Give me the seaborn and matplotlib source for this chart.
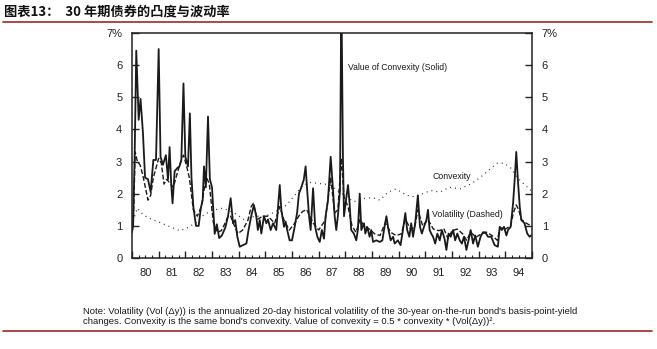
import matplotlib
matplotlib.use("Agg")
import matplotlib.pyplot as plt
from matplotlib import font_manager
from matplotlib.lines import Line2D
from matplotlib.ticker import FixedLocator, FuncFormatter, NullFormatter
import pandas as pd
import seaborn as sns

# Value of convexity (solid line), % — 30-year on-the-run bond
value_years = [
    1980.00, 1980.04, 1980.10, 1980.16, 1980.25, 1980.32, 1980.41, 1980.49, 1980.60, 1980.70,
    1980.80, 1980.90, 1981.00, 1981.07, 1981.16, 1981.27, 1981.35, 1981.41, 1981.47, 1981.52,
    1981.60, 1981.70, 1981.78, 1981.85, 1981.93, 1982.00, 1982.10, 1982.17, 1982.23, 1982.30,
    1982.40, 1982.50, 1982.58, 1982.65, 1982.70, 1982.77, 1982.85, 1982.92, 1983.00, 1983.05,
    1983.10, 1983.18, 1983.27, 1983.37, 1983.50, 1983.60, 1983.70, 1983.79, 1983.87, 1983.95,
    1984.04, 1984.16, 1984.29, 1984.37, 1984.47, 1984.57, 1984.66, 1984.72, 1984.79, 1984.85,
    1984.95, 1985.04, 1985.10, 1985.20, 1985.29, 1985.41, 1985.47, 1985.54, 1985.60, 1985.70,
    1985.76, 1985.82, 1985.91, 1986.00, 1986.10, 1986.19, 1986.26, 1986.35, 1986.44, 1986.51,
    1986.57, 1986.64, 1986.70, 1986.79, 1986.87, 1986.95, 1987.04, 1987.12, 1987.20, 1987.26,
    1987.35, 1987.45, 1987.54, 1987.60, 1987.66, 1987.72, 1987.80, 1987.85, 1987.91, 1987.95,
    1988.04, 1988.10, 1988.16, 1988.22, 1988.32, 1988.41, 1988.47, 1988.54, 1988.60, 1988.70,
    1988.75, 1988.82, 1988.91, 1988.97, 1989.04, 1989.16, 1989.29, 1989.39, 1989.47, 1989.54,
    1989.62, 1989.70, 1989.79, 1989.85, 1989.97, 1990.07, 1990.16, 1990.25, 1990.32, 1990.40,
    1990.47, 1990.54, 1990.62, 1990.72, 1990.80, 1990.87, 1990.95, 1991.04, 1991.10, 1991.16,
    1991.22, 1991.29, 1991.37, 1991.45, 1991.54, 1991.62, 1991.72, 1991.79, 1991.87, 1991.95,
    1992.04, 1992.12, 1992.20, 1992.29, 1992.37, 1992.45, 1992.54, 1992.62, 1992.70, 1992.79,
    1992.87, 1992.97, 1993.07, 1993.16, 1993.25, 1993.35, 1993.47, 1993.60, 1993.72, 1993.79,
    1993.87, 1993.95, 1994.04, 1994.10, 1994.20, 1994.29, 1994.35, 1994.41, 1994.47, 1994.54,
    1994.60, 1994.72, 1994.82, 1994.91, 1994.96,
]
value_pct = [
    0.80, 1.00, 3.20, 6.45, 4.30, 4.95, 3.90, 2.50, 2.45, 2.05,
    3.05, 3.05, 6.50, 3.15, 2.90, 3.20, 2.45, 3.45, 2.30, 1.70,
    2.70, 2.80, 2.85, 3.05, 5.43, 3.15, 2.85, 4.50, 2.50, 1.60,
    1.00, 1.00, 1.55, 1.80, 2.85, 2.20, 4.40, 2.45, 2.20, 1.50,
    0.75, 1.05, 0.62, 0.70, 0.95, 1.30, 1.86, 1.08, 1.18, 0.66,
    0.35, 0.40, 0.45, 0.87, 1.30, 1.65, 1.30, 0.87, 1.18, 0.76,
    1.30, 1.08, 1.20, 0.87, 1.08, 0.87, 1.50, 2.27, 1.50, 0.97,
    1.13, 0.87, 0.55, 0.55, 0.97, 1.40, 2.00, 2.20, 2.43, 2.85,
    2.10, 1.30, 0.87, 2.17, 0.97, 0.66, 0.50, 0.87, 0.60, 1.30,
    1.80, 3.15, 2.10, 1.30, 0.87, 1.30, 2.10, 8.50, 3.15, 1.30,
    1.90, 2.27, 1.70, 0.87, 0.76, 0.55, 0.87, 2.00, 0.87, 1.08,
    0.76, 0.97, 0.66, 0.87, 0.50, 0.55, 0.50, 0.55, 0.97, 1.30,
    0.87, 0.55, 0.66, 0.45, 0.55, 0.40, 0.87, 1.40, 0.87, 0.66,
    1.08, 0.66, 1.08, 1.95, 0.97, 0.76, 0.97, 1.18, 1.50, 0.87,
    0.76, 0.66, 0.45, 0.76, 0.55, 0.87, 0.60, 0.25, 0.76, 0.66,
    0.87, 0.55, 0.76, 0.55, 0.45, 0.66, 0.25, 0.55, 0.87, 0.45,
    0.70, 0.35, 0.66, 0.80, 0.80, 0.66, 0.66, 0.40, 0.35, 0.97,
    0.87, 0.97, 0.70, 0.87, 0.97, 1.70, 2.43, 3.30, 2.43, 1.60,
    1.18, 1.08, 0.76, 0.66, 0.70,
]

# Volatility of basis-point yield changes (dashed line), %
vol_years = [
    1980.00, 1980.05, 1980.12, 1980.20, 1980.30, 1980.40, 1980.50, 1980.60, 1980.70, 1980.80,
    1980.90, 1981.00, 1981.10, 1981.20, 1981.30, 1981.45, 1981.55, 1981.70, 1981.85, 1981.93,
    1982.05, 1982.15, 1982.30, 1982.45, 1982.60, 1982.70, 1982.80, 1982.90, 1983.05, 1983.20,
    1983.35, 1983.50, 1983.60, 1983.70, 1983.80, 1983.97, 1984.15, 1984.35, 1984.47, 1984.55,
    1984.70, 1984.90, 1985.10, 1985.35, 1985.54, 1985.70, 1985.90, 1986.10, 1986.25, 1986.40,
    1986.55, 1986.80, 1987.00, 1987.25, 1987.45, 1987.60, 1987.72, 1987.85, 1987.95, 1988.10,
    1988.25, 1988.40, 1988.55, 1988.70, 1988.90, 1989.10, 1989.30, 1989.50, 1989.70, 1989.90,
    1990.10, 1990.25, 1990.45, 1990.60, 1990.72, 1990.90, 1991.10, 1991.30, 1991.50, 1991.70,
    1991.85, 1992.00, 1992.20, 1992.40, 1992.55, 1992.70, 1992.90, 1993.10, 1993.30, 1993.50,
    1993.70, 1993.80, 1994.00, 1994.20, 1994.30, 1994.41, 1994.50, 1994.60, 1994.75, 1994.96,
]
vol_pct = [
    0.80, 1.10, 3.30, 3.00, 2.90, 2.60, 2.20, 1.80, 1.95, 2.50,
    2.80, 3.10, 2.95, 2.30, 2.45, 2.30, 2.20, 2.65, 3.05, 3.20,
    2.85, 2.50, 1.50, 1.30, 1.60, 2.10, 2.50, 2.30, 1.10, 0.80,
    0.85, 1.10, 1.30, 1.30, 1.08, 0.76, 0.87, 1.18, 1.60, 1.70,
    1.20, 1.30, 1.30, 1.08, 1.60, 1.18, 0.87, 1.08, 1.30, 1.45,
    1.50, 1.08, 0.87, 1.18, 2.50, 1.40, 1.50, 3.10, 1.90, 1.60,
    1.00, 0.80, 1.20, 1.00, 0.90, 0.75, 0.70, 1.10, 0.80, 0.70,
    0.75, 1.20, 0.90, 0.95, 1.50, 1.00, 1.20, 0.90, 0.85, 0.90,
    0.60, 0.85, 0.90, 0.75, 0.55, 0.80, 0.65, 0.75, 0.80, 0.70,
    0.55, 0.95, 0.90, 1.00, 1.40, 1.65, 1.50, 1.20, 1.10, 1.00,
]

# Convexity of the same bond (dotted line)
cvx_years = [
    1980.00, 1980.10, 1980.20, 1980.35, 1980.60, 1981.00, 1981.40, 1981.80, 1982.10, 1982.40,
    1982.70, 1983.00, 1983.40, 1983.80, 1984.20, 1984.60, 1985.00, 1985.40, 1985.80, 1986.10,
    1986.40, 1986.70, 1987.00, 1987.40, 1987.70, 1988.00, 1988.30, 1988.70, 1989.00, 1989.30,
    1989.60, 1989.90, 1990.30, 1990.60, 1990.90, 1991.20, 1991.55, 1991.90, 1992.30, 1992.70,
    1993.05, 1993.40, 1993.70, 1993.95, 1994.20, 1994.45, 1994.70, 1994.96,
]
cvx_pct = [
    1.00, 1.30, 1.55, 1.40, 1.25, 1.12, 0.98, 0.85, 0.95, 1.10,
    1.35, 1.48, 1.55, 1.42, 1.20, 1.30, 1.30, 1.45, 1.65, 1.95,
    2.25, 2.35, 2.32, 2.28, 2.10, 1.95, 1.75, 1.85, 1.88, 1.80,
    2.05, 2.15, 1.95, 1.90, 2.00, 2.10, 2.05, 2.20, 2.15, 2.30,
    2.50, 2.75, 2.95, 2.95, 2.80, 2.50, 2.30, 2.10,
]

y_tick_labels = ["0", "1", "2", "3", "4", "5", "6", "7%"]
year_labels = [str(y)[2:] for y in range(1980, 1995)]

title_text = "图表13：  30 年期债券的凸度与波动率"
note_lines = [
    "Note: Volatility (Vol (\u0394y)) is the annualized 20-day historical volatility of the "
    "30-year on-the-run bond's basis-point-yield",
    "changes. Convexity is the same bond's convexity. Value of convexity = 0.5 * convexity * "
    "(Vol(\u0394y))\u00b2.",
]

sns.set_theme(style="white")
installed = {f.name for f in font_manager.fontManager.ttflist}
narrow = "Liberation Sans Narrow" if "Liberation Sans Narrow" in installed else "Liberation Sans"
plt.rcParams["font.family"] = ["Liberation Sans", "DejaVu Sans"]

W, H = 657, 349
fig = plt.figure(figsize=(W / 100, H / 100), dpi=100)
fig.patch.set_facecolor("white")
ax = fig.add_axes([132 / W, 1 - 258 / H, 400 / W, 225 / H])

ink = "#1a1a1a"
value_df = pd.DataFrame({"year": value_years, "pct": value_pct})
vol_df = pd.DataFrame({"year": vol_years, "pct": vol_pct})
cvx_df = pd.DataFrame({"year": cvx_years, "pct": cvx_pct})

sns.lineplot(data=cvx_df, x="year", y="pct", ax=ax, color="#333333", lw=0.9,
             linestyle=(0, (0.8, 3.2)), estimator=None, sort=False)
sns.lineplot(data=vol_df, x="year", y="pct", ax=ax, color=ink, lw=1.0,
             linestyle=(0, (3.5, 1.6)), estimator=None, sort=False)
sns.lineplot(data=value_df, x="year", y="pct", ax=ax, color=ink, lw=1.3,
             estimator=None, sort=False)

ax.set_xlim(1980, 1995)
ax.set_ylim(0, 7)
ax.set_xlabel("")
ax.set_ylabel("")

for side in ["left", "right", "top", "bottom"]:
    ax.spines[side].set_visible(True)
    ax.spines[side].set_color("#222222")
    ax.spines[side].set_linewidth(1.1)

ax.set_yticks(range(8))
ax.set_yticklabels(y_tick_labels)
ax.tick_params(axis="y", which="both", direction="in", length=5, width=1.0,
               color="#222222", left=True, right=True, labelleft=True,
               labelright=True, labelsize=8, pad=7, labelcolor="#222222")

# year boundaries carry tall ticks, quarters short ones; mid-year quarter holds the label
ax.xaxis.set_major_locator(FixedLocator(list(range(1980, 1996))))
ax.xaxis.set_major_formatter(NullFormatter())
quarters = [y + q for y in range(1980, 1995) for q in (0.25, 0.5, 0.75)]
ax.xaxis.set_minor_locator(FixedLocator(quarters))
ax.xaxis.set_minor_formatter(FuncFormatter(
    lambda v, pos: year_labels[int(v) - 1980] if abs(v % 1 - 0.5) < 1e-6 else ""))
ax.tick_params(axis="x", which="major", direction="in", length=5, width=1.0,
               color="#222222", bottom=True, top=False)
ax.tick_params(axis="x", which="minor", direction="in", length=2.5, width=0.8,
               color="#222222", bottom=True, top=False, labelsize=8, pad=7,
               labelcolor="#222222")

ax.text(1988.1, 5.94, "Value of Convexity (Solid)", fontsize=6.2, family=narrow,
        color=ink, ha="left", va="center")
ax.text(1991.99, 2.53, "Convexity", fontsize=6.3, family=narrow,
        color=ink, ha="center", va="center")
ax.text(1992.58, 1.34, "Volatility (Dashed)", fontsize=6.3, family=narrow,
        color=ink, ha="center", va="center")

fig.text(4 / W, 1 - 11 / H, title_text, fontsize=9.5, fontweight="bold",
         family=["Noto Sans CJK SC", "DejaVu Sans"], color="#111111",
         ha="left", va="center")

rule = "#a3262a"
fig.add_artist(Line2D([3 / W, 652 / W], [1 - 22 / H, 1 - 22 / H],
                      color=rule, lw=1.2, transform=fig.transFigure))
fig.add_artist(Line2D([3 / W, 652 / W], [1 - 331 / H, 1 - 331 / H],
                      color=rule, lw=1.2, transform=fig.transFigure))

fig.text(83 / W, 1 - 311.5 / H, note_lines[0], fontsize=6.8, family=narrow,
         color=ink, ha="left", va="center")
fig.text(83 / W, 1 - 321 / H, note_lines[1], fontsize=6.8, family=narrow,
         color=ink, ha="left", va="center")

fig.savefig("out.png", dpi=100, facecolor="white")
